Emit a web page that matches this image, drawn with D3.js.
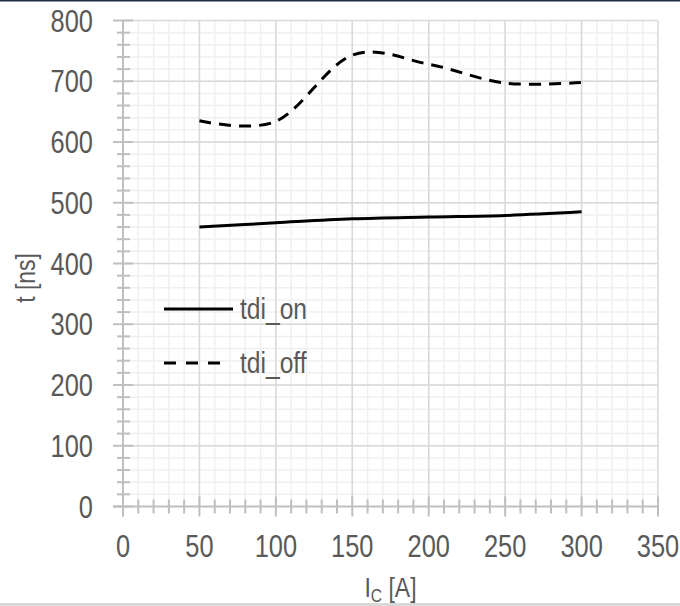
<!DOCTYPE html>
<html>
<head>
<meta charset="utf-8">
<script src="https://cdn.jsdelivr.net/npm/d3@7"></script>
<style>
body { margin: 0; background: #fff; }
text { font-family: "Liberation Sans", Arial, sans-serif; fill: #595959; }
</style>
</head>
<body>
<svg id="chart" width="680" height="606"></svg>
<script>
// collector current in A
var currents = [50, 100, 150, 200, 250, 300];
// delay times in ns
var tdiOn = [460, 467, 473.5, 476.5, 479, 485];
var tdiOff = [635, 634, 743, 728, 697, 698];

var seriesNames = ["tdi_on", "tdi_off"];
var xTicks = [0, 50, 100, 150, 200, 250, 300, 350];
var yTicks = [0, 100, 200, 300, 400, 500, 600, 700, 800];

var svg = d3.select("#chart");
var narrow = " scale(0.82,1)"; // no narrow font installed, squeeze text instead

var x = d3.scaleLinear().domain([0, 350]).range([123, 658]);
var y = d3.scaleLinear().domain([0, 800]).range([506.5, 20.5]);

// frame lines top & bottom
svg.append("rect").attr("x", 0).attr("y", 0).attr("width", 680).attr("height", 1.5).attr("fill", "#1f2a44");
svg.append("rect").attr("x", 0).attr("y", 603).attr("width", 680).attr("height", 3).attr("fill", "#d9d9d9");

// minor grid
var grid = svg.append("g");
grid.selectAll(".mx").data(d3.range(10, 350, 10))
    .enter().append("line")
    .attr("x1", function (d) { return x(d); }).attr("x2", function (d) { return x(d); })
    .attr("y1", y(0)).attr("y2", y(800))
    .attr("stroke", "#f0f0f0").attr("stroke-width", 1.5);
grid.selectAll(".my").data(d3.range(20, 800, 20))
    .enter().append("line")
    .attr("y1", function (d) { return y(d); }).attr("y2", function (d) { return y(d); })
    .attr("x1", x(0)).attr("x2", x(350))
    .attr("stroke", "#f0f0f0").attr("stroke-width", 1.5);

// major grid
grid.selectAll(".Mx").data(xTicks.slice(1))
    .enter().append("line")
    .attr("x1", function (d) { return x(d); }).attr("x2", function (d) { return x(d); })
    .attr("y1", y(0)).attr("y2", y(800))
    .attr("stroke", "#d9d9d9").attr("stroke-width", 1.5);
grid.selectAll(".My").data(yTicks.slice(1))
    .enter().append("line")
    .attr("y1", function (d) { return y(d); }).attr("y2", function (d) { return y(d); })
    .attr("x1", x(0)).attr("x2", x(350))
    .attr("stroke", "#d9d9d9").attr("stroke-width", 1.5);

// axes
var axisCol = "#bfbfbf";
var ax = svg.append("g");
ax.append("line").attr("x1", x(0)).attr("x2", x(0)).attr("y1", y(800)).attr("y2", y(0) + 10)
    .attr("stroke", axisCol).attr("stroke-width", 2);
ax.append("line").attr("x1", x(0) - 10).attr("x2", x(350)).attr("y1", y(0)).attr("y2", y(0))
    .attr("stroke", axisCol).attr("stroke-width", 2);

// y ticks (cross)
ax.selectAll(".yt").data(yTicks).enter().append("line")
    .attr("x1", x(0) - 10).attr("x2", x(0) + 10)
    .attr("y1", function (d) { return y(d); }).attr("y2", function (d) { return y(d); })
    .attr("stroke", axisCol).attr("stroke-width", 2);
ax.selectAll(".ymt").data(d3.range(20, 800, 20).filter(function (d) { return d % 100; })).enter().append("line")
    .attr("x1", x(0) - 6).attr("x2", x(0) + 7)
    .attr("y1", function (d) { return y(d); }).attr("y2", function (d) { return y(d); })
    .attr("stroke", axisCol).attr("stroke-width", 2);

// x ticks (cross)
ax.selectAll(".xt").data(xTicks).enter().append("line")
    .attr("x1", function (d) { return x(d); }).attr("x2", function (d) { return x(d); })
    .attr("y1", y(0) - 10).attr("y2", y(0) + 10)
    .attr("stroke", axisCol).attr("stroke-width", 2);
ax.selectAll(".xmt").data(d3.range(10, 350, 10).filter(function (d) { return d % 50; })).enter().append("line")
    .attr("x1", function (d) { return x(d); }).attr("x2", function (d) { return x(d); })
    .attr("y1", y(0) - 7).attr("y2", y(0) + 7)
    .attr("stroke", axisCol).attr("stroke-width", 2);

// tick labels
svg.selectAll(".yl").data(yTicks).enter().append("text")
    .attr("transform", function (d) { return "translate(93," + (y(d) + 11) + ")" + narrow; })
    .attr("text-anchor", "end").attr("font-size", 31)
    .text(function (d) { return d; });
svg.selectAll(".xl").data(xTicks).enter().append("text")
    .attr("transform", function (d) { return "translate(" + x(d) + ",557)" + narrow; })
    .attr("text-anchor", "middle").attr("font-size", 31)
    .text(function (d) { return d; });

// axis titles
var xt = svg.append("text").attr("transform", "translate(" + x(175) + ",597)" + narrow)
    .attr("text-anchor", "middle").attr("font-size", 28);
xt.append("tspan").text("I");
xt.append("tspan").attr("font-size", 19).attr("dy", 5).text("C");
xt.append("tspan").attr("dy", -5).text(" [A]");

svg.append("text")
    .attr("transform", "translate(35,278) rotate(-90)" + narrow)
    .attr("text-anchor", "middle").attr("font-size", 28)
    .text("t [ns]");

// lines
var data = [tdiOn, tdiOff];
var line = d3.line()
    .x(function (d, i) { return x(currents[i]); })
    .y(function (d) { return y(d); })
    .curve(d3.curveCardinal.tension(0));

svg.selectAll(".series").data(data).enter().append("path")
    .attr("d", line)
    .attr("fill", "none")
    .attr("stroke", "#000")
    .attr("stroke-width", 3)
    .attr("stroke-dasharray", function (d, i) { return i === 1 ? "12,8" : null; });

// legend
var leg = svg.selectAll(".leg").data(seriesNames).enter().append("g")
    .attr("transform", function (d, i) { return "translate(0," + (309 + i * 54) + ")"; });
leg.append("line")
    .attr("x1", 164).attr("x2", function (d, i) { return i === 1 ? 222 : 233; })
    .attr("y1", 0).attr("y2", 0)
    .attr("stroke", "#000").attr("stroke-width", 3)
    .attr("stroke-dasharray", function (d, i) { return i === 1 ? "12,10" : null; });
leg.append("text")
    .attr("transform", "translate(240,10)" + narrow).attr("font-size", 30)
    .text(function (d) { return d; });
</script>
</body>
</html>
